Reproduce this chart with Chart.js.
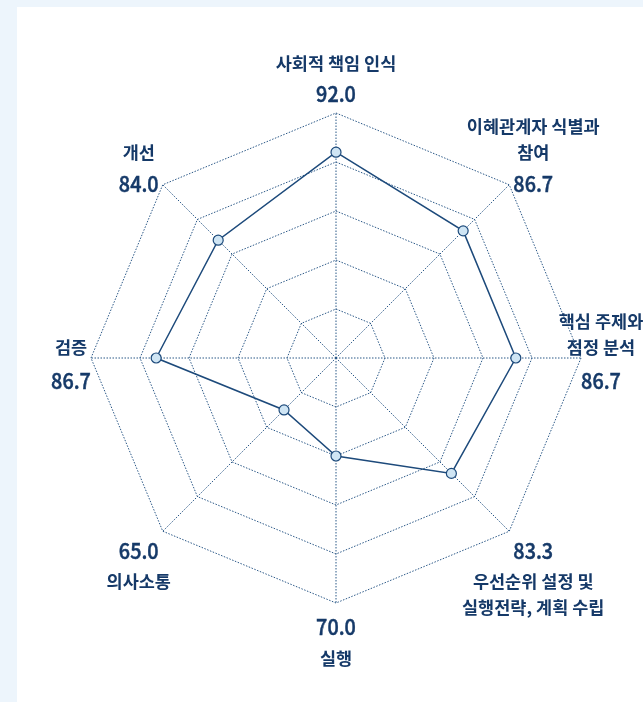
<!DOCTYPE html>
<html lang="ko">
<head>
<meta charset="utf-8">
<script src="https://cdn.jsdelivr.net/npm/chart.js@4.4.1/dist/chart.umd.min.js"></script>
<style>
    html, body { margin: 0; padding: 0; width: 643px; height: 702px; overflow: hidden; background: #edf5fc; }
    .panel { position: absolute; left: 17px; top: 7px; right: 0; bottom: 0; background: #ffffff; }
    #radarChart { position: absolute; left: 0; top: 0; }
</style>
</head>
<body>
<div class="panel"></div>
<canvas id="radarChart" width="643" height="702"></canvas>
<script>
// axis names (one entry per spoke, each split into display lines)
const categories = [
    ['사회적 책임 인식'],
    ['이혜관계자 식별과', '참여'],
    ['핵심 주제와', '점정 분석'],
    ['우선순위 설정 및', '실행전략, 계획 수립'],
    ['실행'],
    ['의사소통'],
    ['검증'],
    ['개선']
];
const scores = [92.0, 86.7, 86.7, 83.3, 70.0, 65.0, 86.7, 84.0];
const scaleRange = [50, 100];
const scaleStep = 10;

const TEXT_COLOR = '#153968';
const LINE_COLOR = '#1d4a7b';
const GRID_COLOR = '#2b5887';
const NAME_LH = 26;
const VALUE_LH = 36;

// draws "name + value" blocks around the radar
const axisLabels = {
    id: 'axisLabels',
    afterDraw(chart) {
        const scale = chart.scales.r;
        const ctx = chart.ctx;
        const R = scale.drawingArea;

        categories.forEach((lines, i) => {
            const p = scale.getPointPosition(i, R);
            const a = scale.getIndexAngle(i);
            const dx = Math.sin(a);
            const dy = -Math.cos(a);
            const lower = dy > 0.01;
            const side = Math.abs(dy) < 0.01;

            const nameRows = lines.map(t => ({ text: t, value: false }));
            const valueRow = { text: scores[i].toFixed(1), value: true };
            const rows = lower ? [valueRow, ...nameRows] : [...nameRows, valueRow];
            const h = rows.reduce((s, r) => s + (r.value ? VALUE_LH : NAME_LH), 0);

            let cx, top;
            if (Math.abs(dx) < 0.01) {
                cx = p.x;
                top = lower ? p.y + 6 : p.y - 1 - h;
            } else if (side) {
                // names sit above the spoke, value below it
                cx = p.x + Math.sign(dx) * 20;
                top = p.y + 2 - lines.length * NAME_LH;
            } else {
                cx = p.x + Math.sign(dx) * 24;
                top = lower ? p.y + 1 : p.y + 17 - h;
            }

            ctx.save();
            ctx.fillStyle = TEXT_COLOR;
            ctx.strokeStyle = TEXT_COLOR;
            ctx.textAlign = 'center';
            ctx.textBaseline = 'middle';
            let y = top;
            rows.forEach(r => {
                if (side && r.value) y += 3;
                const lh = r.value ? VALUE_LH : NAME_LH;
                ctx.save();
                ctx.translate(cx, y + lh / 2);
                if (r.value) {
                    ctx.font = '500 22px "Noto Sans CJK KR", "Noto Sans", sans-serif';
                    ctx.scale(0.9, 1);
                    ctx.lineWidth = 0.5;
                    ctx.strokeText(r.text, 0, 0);
                } else {
                    ctx.font = 'bold 17.5px "Noto Sans CJK KR", "Noto Sans", sans-serif';
                }
                ctx.fillText(r.text, 0, 0);
                ctx.restore();
                y += lh;
            });
            ctx.restore();
        });
    }
};

const ctx = document.getElementById('radarChart').getContext('2d');

new Chart(ctx, {
    type: 'radar',
    data: {
        labels: categories.map(l => l.join(' ')),
        datasets: [{
            data: scores,
            fill: false,
            borderColor: LINE_COLOR,
            borderWidth: 1.5,
            pointRadius: 5,
            pointBackgroundColor: '#cfe5f4',
            pointBorderColor: LINE_COLOR,
            pointBorderWidth: 1.2,
            tension: 0
        }]
    },
    options: {
        responsive: false,
        animation: false,
        layout: {
            padding: { left: 91, right: 62, top: 113, bottom: 99 }
        },
        plugins: {
            legend: { display: false },
            tooltip: { enabled: false }
        },
        scales: {
            r: {
                min: scaleRange[0],
                max: scaleRange[1],
                ticks: { display: false, stepSize: scaleStep },
                pointLabels: { display: false },
                grid: { color: GRID_COLOR, lineWidth: 1 },
                border: { dash: [1.5, 1.5] },
                angleLines: { color: GRID_COLOR, lineWidth: 1, borderDash: [1.5, 1.5] }
            }
        }
    },
    plugins: [axisLabels]
});
</script>
</body>
</html>
